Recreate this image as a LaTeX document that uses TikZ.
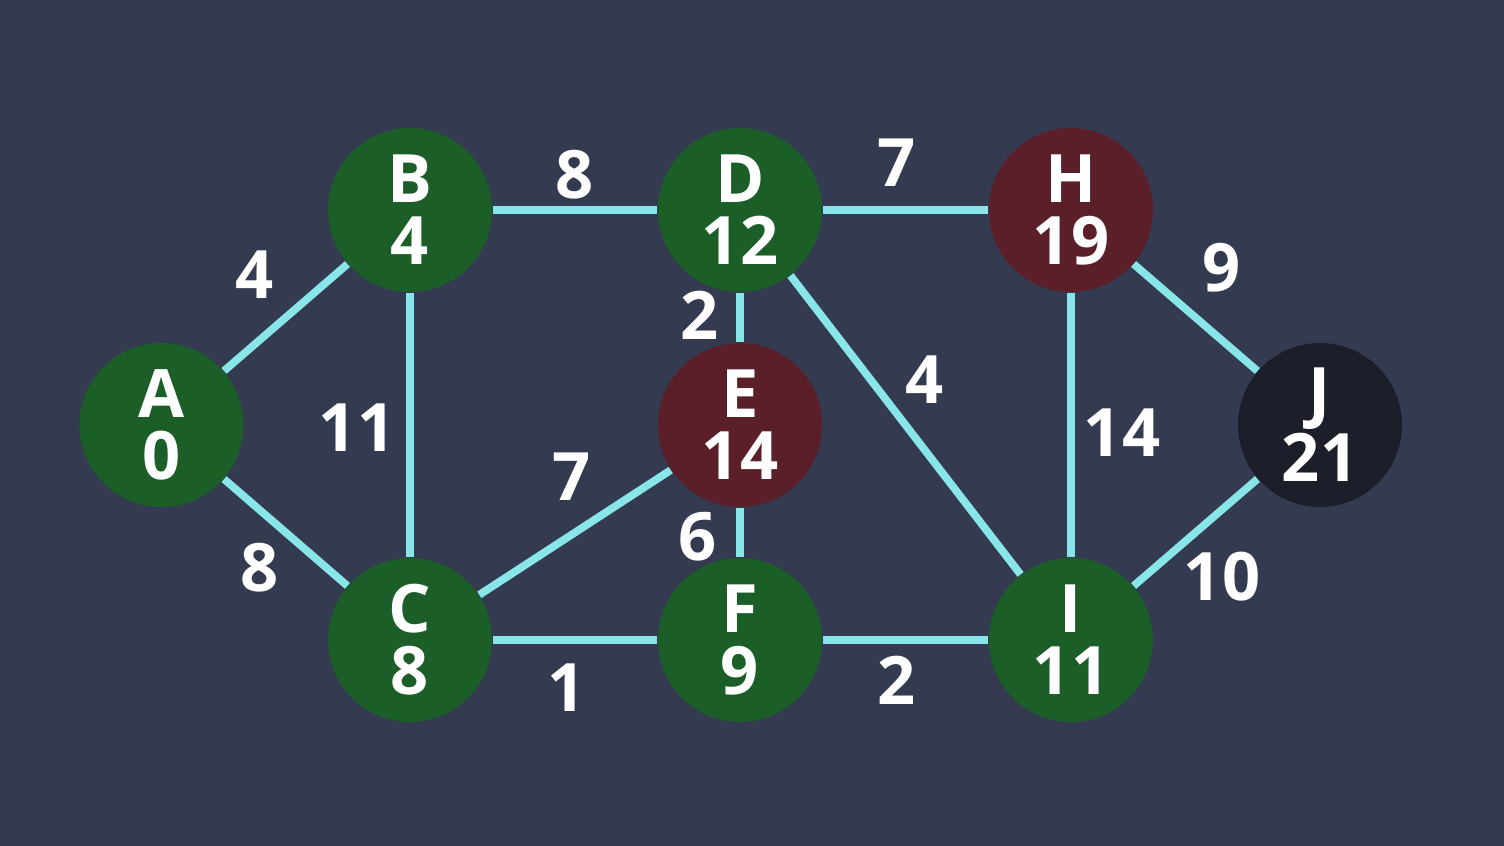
\documentclass[tikz,border=0pt]{standalone}
\usepackage{fontspec}
\setmainfont{Open Sans}
\usepackage{xcolor}

\definecolor{bgblue}{HTML}{343A4F}
\definecolor{visgreen}{HTML}{1B5E28}
\definecolor{queuered}{HTML}{5A1F28}
\definecolor{goalblack}{HTML}{1C1F2A}
\definecolor{edgecyan}{HTML}{88E6E8}

\begin{document}
\begin{tikzpicture}[
  vertex/.style={circle,fill=visgreen,text=white,minimum size=1.64cm,inner sep=0pt,align=center,font=\bfseries\fontsize{19}{17.6}\selectfont},  rvertex/.style={vertex,fill=queuered},  gvertex/.style={vertex,fill=goalblack},  edge/.style={draw=edgecyan,line width=2.2pt},  weight/.style={text=white,inner sep=0pt,font=\bfseries\fontsize{19}{17.6}\selectfont}
]
  \fill[bgblue] (0,0) rectangle (15.04,8.46);
  \useasboundingbox (0,0) rectangle (15.04,8.46);
  \node[vertex] (A) at (1.615,4.21) {A\\0};
  \node[vertex] (B) at (4.10,6.36) {B\\4};
  \node[vertex] (C) at (4.10,2.06) {C\\8};
  \node[vertex] (D) at (7.40,6.36) {D\\12};
  \node[rvertex] (E) at (7.40,4.21) {E\\14};
  \node[vertex] (F) at (7.40,2.06) {F\\9};
  \node[rvertex] (H) at (10.71,6.36) {H\\19};
  \node[vertex] (I) at (10.71,2.06) {I\\11};
  \node[gvertex] (J) at (13.20,4.21) {J\\21};
  \draw[edge] (A) -- (B);
  \draw[edge] (A) -- (C);
  \draw[edge] (B) -- (C);
  \draw[edge] (B) -- (D);
  \draw[edge] (C) -- (E);
  \draw[edge] (C) -- (F);
  \draw[edge] (D) -- (E);
  \draw[edge] (E) -- (F);
  \draw[edge] (D) -- (H);
  \draw[edge] (D) -- (I);
  \draw[edge] (F) -- (I);
  \draw[edge] (H) -- (I);
  \draw[edge] (H) -- (J);
  \draw[edge] (I) -- (J);
  \node[weight] (wab) at (2.55,5.71) {4};
  \node[weight] (wac) at (2.60,2.78) {8};
  \node[weight] (wbc) at (3.57,4.18) {11};
  \node[weight] (wbd) at (5.75,6.71) {8};
  \node[weight] (wce) at (5.72,3.69) {7};
  \node[weight] (wcf) at (5.67,1.58) {1};
  \node[weight] (wde) at (7.00,5.31) {2};
  \node[weight] (wef) at (6.98,3.09) {6};
  \node[weight] (wdh) at (8.97,6.83) {7};
  \node[weight] (wdi) at (9.25,4.66) {4};
  \node[weight] (wfi) at (8.97,1.66) {2};
  \node[weight] (whi) at (11.22,4.13) {14};
  \node[weight] (whj) at (12.22,5.78) {9};
  \node[weight] (wij) at (12.22,2.69) {10};
\end{tikzpicture}
\end{document}
